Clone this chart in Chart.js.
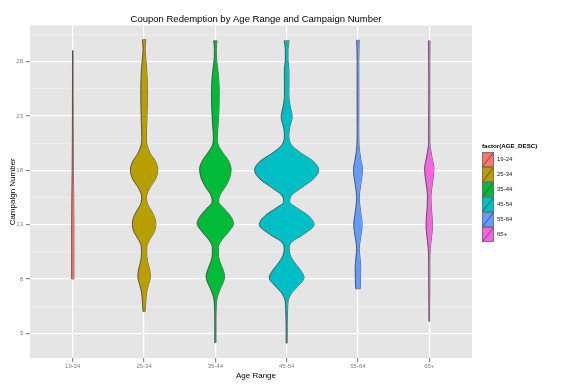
<!DOCTYPE html>
<html>
<head>
<meta charset="utf-8">
<script src="https://cdn.jsdelivr.net/npm/chart.js@4.4.1/dist/chart.umd.min.js"></script>
<style>
	html, body { margin: 0; background: #ffffff; }
</style>
</head>
<body>
<canvas id="coupon-violins" width="562" height="388"></canvas>
<script>
const ageRanges = ["19-24", "25-34", "35-44", "45-54", "55-64", "65+"];
const ageColors = ["#F8766D", "#B79F00", "#00BA38", "#00BFC4", "#619CFF", "#F564E3"];

// campaign numbers and relative density (largest bulge = 32.2)
const campaigns1924 = [8, 10, 13, 16, 18, 20.5, 23, 26, 29];
const density1924 = [1.1, 1.1, 1.1, 0.9, 0.6, 0.45, 0.35, 0.3, 0.25];

const campaigns2534 = [5.0, 6.0, 6.8, 7.5, 8.2, 8.9, 9.6, 10.3, 11.0, 11.6, 12.3, 13.0, 13.7, 14.4, 15.0, 15.6, 16.4, 17.2, 18.0, 18.8, 19.5, 20.3, 21.0, 22.5, 24.0, 25.5, 27.0, 28.0, 29.2, 30.0];
const density2534 = [1.0, 1.8, 2.6, 4.5, 6.3, 5.5, 3.5, 2.6, 2.8, 5.5, 10.0, 11.8, 10.5, 6.5, 3.0, 2.5, 6.0, 11.5, 13.7, 11.5, 6.5, 3.0, 2.3, 2.8, 3.2, 3.3, 2.8, 2.0, 1.0, 1.7];

const campaigns3544 = [2.14, 4.0, 5.5, 6.2, 7.0, 7.6, 8.2, 8.9, 9.6, 10.3, 10.9, 11.6, 12.3, 13.1, 13.8, 14.5, 15.1, 15.7, 16.4, 17.2, 18.1, 18.9, 19.6, 20.3, 21.0, 22.0, 23.5, 25.0, 26.5, 27.6, 28.5, 29.2, 29.9];
const density3544 = [0.6, 0.6, 0.9, 1.6, 4.5, 7.5, 9.3, 7.5, 4.5, 3.0, 3.0, 6.5, 13.0, 18.3, 15.0, 8.5, 3.2, 4.5, 9.5, 14.0, 15.8, 13.0, 7.5, 3.0, 2.0, 2.6, 3.6, 3.9, 3.3, 2.0, 1.0, 1.0, 1.7];

const campaigns4554 = [2.1, 4.0, 5.3, 6.0, 6.7, 7.4, 8.1, 8.8, 9.5, 10.2, 10.8, 11.4, 12.1, 13.0, 13.8, 14.5, 15.1, 15.7, 16.4, 17.2, 18.0, 18.8, 19.6, 20.3, 21.2, 21.9, 22.9, 23.9, 24.8, 26.0, 27.2, 28.2, 29.1, 29.9];
const density4554 = [0.5, 0.6, 1.0, 1.5, 5.0, 12.0, 17.5, 14.0, 8.0, 3.5, 2.5, 5.0, 17.0, 27.5, 22.0, 11.0, 3.0, 5.0, 15.0, 27.0, 32.2, 27.0, 14.0, 5.0, 2.2, 3.0, 5.5, 3.5, 2.2, 2.3, 2.3, 1.3, 1.3, 2.5];

const campaigns5564 = [7.1, 8.0, 9.0, 10.0, 10.8, 11.7, 13.0, 14.3, 15.5, 16.7, 18.0, 19.2, 20.4, 22.0, 25.0, 28.0, 29.95];
const density5564 = [2.3, 2.6, 2.8, 2.0, 1.3, 2.5, 4.2, 2.5, 1.3, 2.8, 4.5, 2.5, 1.0, 0.8, 0.9, 0.8, 1.3];

const campaigns65 = [4.1, 7.0, 9.5, 10.8, 11.8, 13.0, 14.3, 15.6, 16.8, 18.1, 19.3, 20.6, 24.0, 27.0, 29.9];
const density65 = [0.3, 0.5, 0.6, 1.0, 2.2, 3.3, 2.3, 1.7, 3.2, 4.7, 2.5, 0.6, 0.5, 0.5, 0.7];

const yMajorTicks = [3, 8, 13, 18, 23, 28];
const yMinorTicks = [5.5, 10.5, 15.5, 20.5, 25.5, 30.5];

const violins = [
	[campaigns1924, density1924],
	[campaigns2534, density2534],
	[campaigns3544, density3544],
	[campaigns4554, density4554],
	[campaigns5564, density5564],
	[campaigns65, density65],
];

const FONT = '"Liberation Sans", Arial, Helvetica, sans-serif';
const OUTLINE = "#3a3a3a";
const PANEL_RIGHT = 5.6; // ggplot discrete expansion (0.6 each side)
const X_AXIS_MAX = 5.74; // leaves a gap before the legend
const LEGEND_PAD = 9;
const LEGEND_BOX_W = 3;
// the legend box is only as wide as its items, so pad the labels
// with blank space to keep the wider legend title from being clipped
const LEGEND_FILL = "\u00a0".repeat(11);

// ggplot scale = "area": the biggest density gets half-width 0.45
const maxDensity = Math.max(...violins.flatMap((v) => v[1]));
const halfWidth = (d) => (0.45 * d) / maxDensity;

function violinDatasets(index) {
	const [ys, ds] = violins[index];
	const left = ys.map((y, k) => ({ x: index - halfWidth(ds[k]), y }));
	const right = ys.map((y, k) => ({ x: index + halfWidth(ds[k]), y }));
	const last = ys.length - 1;

	const curve = {
		borderColor: OUTLINE,
		borderWidth: 0.8,
		pointRadius: 0,
		cubicInterpolationMode: "monotone",
	};
	const cap = {
		borderColor: OUTLINE,
		borderWidth: 0.8,
		pointRadius: 0,
		tension: 0,
		fill: false,
	};

	return [
		{ ...curve, label: ageRanges[index], data: left, fill: "+1", backgroundColor: ageColors[index] },
		{ ...curve, label: ageRanges[index], data: right, fill: false },
		{ ...cap, label: ageRanges[index], data: [left[0], right[0]] },
		{ ...cap, label: ageRanges[index], data: [left[last], right[last]] },
	];
}

function legendKey(color) {
	const keyW = 12;
	const keyH = 15;
	const shift = LEGEND_PAD + LEGEND_BOX_W / 2;
	const canvas = document.createElement("canvas");
	canvas.width = 2 * (shift + keyW);
	canvas.height = keyH;
	const g = canvas.getContext("2d");
	const x0 = keyW;
	g.fillStyle = color;
	g.fillRect(x0, 0, keyW, keyH);
	g.strokeStyle = "#6f6f6f";
	g.lineWidth = 0.8;
	g.strokeRect(x0 + 0.4, 0.4, keyW - 0.8, keyH - 0.8);
	g.strokeStyle = "#333333";
	g.lineWidth = 0.7;
	g.beginPath();
	g.moveTo(x0 + 0.5, keyH - 0.5);
	g.lineTo(x0 + keyW - 0.5, 0.5);
	g.stroke();
	return canvas;
}

const panelBackground = {
	id: "panelBackground",
	beforeDraw(chart) {
		const { ctx, chartArea, scales } = chart;
		const right = scales.x.getPixelForValue(PANEL_RIGHT);
		ctx.save();
		ctx.fillStyle = "#E5E5E5";
		ctx.fillRect(chartArea.left, chartArea.top, right - chartArea.left, chartArea.bottom - chartArea.top);
		ctx.restore();
	},
};

Chart.defaults.font.family = FONT;
Chart.defaults.color = "#7f7f7f";

const legendKeys = ageColors.map(legendKey);

new Chart(document.getElementById("coupon-violins"), {
	type: "line",
	data: {
		datasets: ageRanges.flatMap((_, i) => violinDatasets(i)),
	},
	plugins: [panelBackground],
	options: {
		indexAxis: "y",
		responsive: false,
		animation: false,
		events: [],
		layout: {
			padding: { left: 8, right: 23, top: 0, bottom: 7 },
		},
		plugins: {
			title: {
				display: true,
				text: "Coupon Redemption by Age Range and Campaign Number",
				color: "#000000",
				fullSize: false,
				font: { size: 9.5, weight: "normal" },
				padding: { top: 14, bottom: 0 },
			},
			legend: {
				position: "right",
				align: "center",
				fullSize: false,
				maxWidth: 57,
				title: {
					display: true,
					text: "factor(AGE_DESC)",
					color: "#000000",
					position: "start",
					font: { size: 6.2, weight: "bold" },
					padding: { top: 6, bottom: -3 },
				},
				labels: {
					usePointStyle: true,
					pointStyleWidth: LEGEND_BOX_W,
					padding: LEGEND_PAD,
					color: "#1a1a1a",
					font: { size: 6 },
					generateLabels: () =>
						ageRanges.map((label, i) => ({
							text: label + LEGEND_FILL,
							pointStyle: legendKeys[i],
							fontColor: "#1a1a1a",
							lineWidth: 0,
							hidden: false,
							datasetIndex: i * 4,
						})),
				},
			},
			tooltip: { enabled: false },
		},
		scales: {
			x: {
				type: "linear",
				min: -0.6,
				max: X_AXIS_MAX,
				afterBuildTicks: (axis) => {
					axis.ticks = ageRanges.map((_, i) => ({ value: i }));
				},
				ticks: {
					autoSkip: false,
					maxRotation: 0,
					padding: 1,
					color: "#7f7f7f",
					font: { size: 6 },
					callback: (value) => ageRanges[value] ?? "",
				},
				grid: {
					color: "#ffffff",
					lineWidth: 1.2,
					tickLength: 4,
					tickColor: "#8c8c8c",
				},
				border: { display: false },
				title: {
					display: true,
					text: "Age Range",
					color: "#000000",
					font: { size: 8 },
					padding: { top: 0, bottom: 0 },
				},
			},
			y: {
				type: "linear",
				min: 0.71,
				max: 31.32,
				afterBuildTicks: (axis) => {
					axis.ticks = [...yMajorTicks, ...yMinorTicks].sort((a, b) => a - b).map((value) => ({ value }));
				},
				afterFit: (axis) => {
					axis.width = 22;
				},
				ticks: {
					autoSkip: false,
					padding: 3,
					color: "#7f7f7f",
					font: { size: 6 },
					callback: (value) => (yMajorTicks.includes(value) ? String(value) : ""),
				},
				grid: {
					color: (ctx) => (yMajorTicks.includes(ctx.tick.value) ? "#ffffff" : "rgba(255,255,255,0.5)"),
					lineWidth: (ctx) => (yMajorTicks.includes(ctx.tick.value) ? 1.2 : 0.6),
					tickLength: 4,
					tickColor: (ctx) => (yMajorTicks.includes(ctx.tick.value) ? "#8c8c8c" : "rgba(0,0,0,0)"),
				},
				border: { display: false },
				title: {
					display: true,
					text: "Campaign Number",
					color: "#000000",
					font: { size: 8 },
					padding: { top: 0, bottom: 0 },
				},
			},
		},
	},
});
</script>
</body>
</html>
